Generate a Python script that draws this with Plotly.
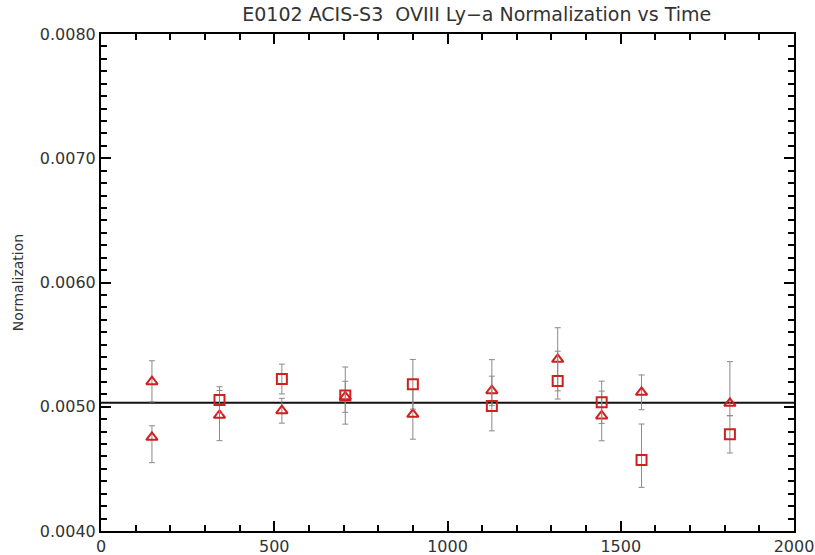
import plotly.graph_objects as go

# ---- data ----
tri_time = [147, 147, 342, 522, 705, 900, 1128, 1318, 1445, 1560, 1815]
tri_norm = [0.005202, 0.004754, 0.004931, 0.004968, 0.005080, 0.004939, 0.005129, 0.005382, 0.004926, 0.005116, 0.005028]
tri_err_plus = [0.000168, 0.000093, 0.000200, 0.000100, 0.000125, 0.000200, 0.000250, 0.000254, 0.000200, 0.000140, 0.000335]
tri_err_minus = [0.000163, 0.000204, 0.000204, 0.000100, 0.000125, 0.000200, 0.000120, 0.000254, 0.000200, 0.000140, 0.000100]

sq_time = [342, 522, 705, 900, 1128, 1318, 1445, 1560, 1815]
sq_norm = [0.005054, 0.005223, 0.005090, 0.005181, 0.005006, 0.005207, 0.005036, 0.004571, 0.004778]
sq_err_plus = [0.000107, 0.000120, 0.000230, 0.000200, 0.000240, 0.000240, 0.000170, 0.000290, 0.000150]
sq_err_minus = [0.000107, 0.000120, 0.000230, 0.000200, 0.000200, 0.000145, 0.000170, 0.000220, 0.000150]

mean_norm = 0.005033
x_range = [0, 2000]
y_range = [0.0040, 0.0080]
y_ticks = [0.0040, 0.0050, 0.0060, 0.0070, 0.0080]
x_ticks = [0, 500, 1000, 1500, 2000]

RED = "#d01f1f"
ERR = "#8a8a8a"
FONT = "DejaVu Sans"

fig = go.Figure()

fig.add_trace(go.Scatter(
    x=x_range, y=[mean_norm, mean_norm], mode="lines",
    line=dict(color="#111111", width=2), hoverinfo="skip", showlegend=False))

fig.add_trace(go.Scatter(
    x=tri_time, y=tri_norm, mode="markers",
    marker=dict(symbol="triangle-up-open", size=10, color=RED, line=dict(width=2, color=RED)),
    error_y=dict(type="data", array=tri_err_plus, arrayminus=tri_err_minus,
                 color=ERR, thickness=1, width=3),
    showlegend=False))

fig.add_trace(go.Scatter(
    x=sq_time, y=sq_norm, mode="markers",
    marker=dict(symbol="square-open", size=10, color=RED, line=dict(width=2, color=RED)),
    error_y=dict(type="data", array=sq_err_plus, arrayminus=sq_err_minus,
                 color=ERR, thickness=1, width=3),
    showlegend=False))

axis_common = dict(
    showline=True, linecolor="black", linewidth=2, mirror="ticks",
    ticks="inside", tickcolor="black", tickwidth=1.5, ticklen=10,
    showgrid=False, zeroline=False,
    tickfont=dict(family=FONT, size=16, color="#333333"),
)

fig.update_xaxes(range=x_range, tickvals=x_ticks, ticktext=[str(v) for v in x_ticks],
                 minor=dict(dtick=100, ticks="inside", ticklen=6, tickcolor="black", tickwidth=1.5),
                 automargin=False, **axis_common)
fig.update_yaxes(range=y_range, tickvals=y_ticks, tickformat=".4f",
                 minor=dict(dtick=0.0001, ticks="inside", ticklen=6, tickcolor="black", tickwidth=1.5),
                 title=dict(text="Normalization", font=dict(family=FONT, size=14, color="#333333"), standoff=13),
                 automargin=False, **axis_common)

fig.update_layout(
    width=815, height=555,
    margin=dict(l=101, r=21, t=34, b=24),
    paper_bgcolor="white", plot_bgcolor="white",
    title=dict(text="E0102 ACIS-S3  OVIII Ly\u2212a Normalization vs Time",
               x=0.585, xanchor="center", y=1 - 14 / 555, yanchor="middle",
               font=dict(family=FONT, size=19, color="#333333")),
)

fig.write_html("out.html", config={"displayModeBar": False},
               post_script="document.body.style.margin='0';")
